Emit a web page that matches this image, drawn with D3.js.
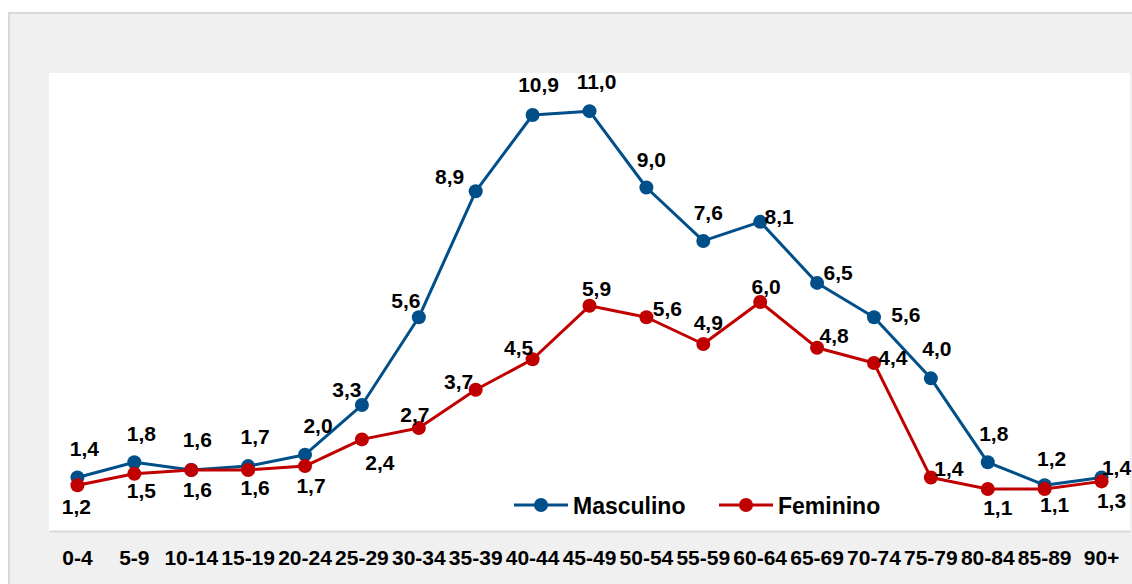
<!DOCTYPE html>
<html>
<head>
<meta charset="utf-8">
<script src="https://cdn.jsdelivr.net/npm/d3@7"></script>
<style>
  html, body { margin: 0; padding: 0; background: #ffffff; }
  svg { display: block; }
  text { font-family: "Liberation Sans", Arial, sans-serif; font-weight: bold; fill: #000; }
</style>
</head>
<body>
<svg id="chart" width="1132" height="584"></svg>
<script>
// ---- data ----
const categories = ["0-4","5-9","10-14","15-19","20-24","25-29","30-34","35-39","40-44","45-49","50-54","55-59","60-64","65-69","70-74","75-79","80-84","85-89","90+"];
const masculino = [1.4,1.8,1.6,1.7,2.0,3.3,5.6,8.9,10.9,11.0,9.0,7.6,8.1,6.5,5.6,4.0,1.8,1.2,1.4];
const feminino  = [1.2,1.5,1.6,1.6,1.7,2.4,2.7,3.7,4.5,5.9,5.6,4.9,6.0,4.8,4.4,1.4,1.1,1.1,1.3];
const seriesNames = ["Masculino","Feminino"];

// ---- label placement (dx, dy relative to point) ----
const mascLabelOffsets = [[7,-29],[7,-29],[6,-30],[7,-30],[13,-29],[-15,-16],[-13,-17],[-26,-15],[6,-30],[7,-30],[5,-28],[5,-28],[19,-5],[21,-10],[32,-3],[6,-30],[6,-29],[7,-27],[15,-10]];
const femLabelOffsets  = [[-1,21],[7,17],[6,20],[7,18],[6,19],[18,23],[-4,-13],[-17,-8],[-14,-12],[7,-17],[21,-9],[5,-21],[6,-16],[17,-12],[19,-6],[18,-9],[10,18],[10,15],[10,19]];

const colors = { Masculino: "#004f88", Feminino: "#c00000" };

const svg = d3.select("#chart");
const W = 1132, H = 584;

// outer panel
svg.append("rect").attr("x", 9).attr("y", 13).attr("width", W - 9 + 2).attr("height", H - 13 + 2)
  .attr("fill", "#f0f0f0").attr("stroke", "#d9d9d9").attr("stroke-width", 2);

const plot = { left: 49, right: 1130, top: 73, bottom: 531 };
svg.append("rect").attr("x", plot.left).attr("y", plot.top)
  .attr("width", plot.right - plot.left).attr("height", plot.bottom - plot.top).attr("fill", "#ffffff");

const x = d3.scaleBand().domain(categories).range([plot.left, plot.right]);
const y = d3.scaleLinear().domain([0, 12]).range([plot.bottom, plot.top]);

// bottom axis
const xAxis = d3.axisBottom(x).tickSize(0).tickPadding(0);
const gx = svg.append("g").attr("transform", `translate(0,${plot.bottom})`).call(xAxis);
gx.select(".domain").attr("stroke", "#d9d9d9").attr("stroke-width", 2);
gx.selectAll("text").attr("font-size", 21).attr("font-family", "Liberation Sans, Arial, sans-serif")
  .attr("font-weight", "bold").attr("fill", "#000").attr("dy", null).attr("y", 26).attr("dominant-baseline", "central");

const cx = d => x(d) + x.bandwidth() / 2;

function drawSeries(values, color, offsets) {
  const pts = categories.map((c, i) => ({ c, v: values[i], o: offsets[i] }));
  const line = d3.line().x(d => cx(d.c)).y(d => y(d.v));
  const g = svg.append("g");
  g.append("path").datum(pts).attr("d", line).attr("fill", "none")
    .attr("stroke", color).attr("stroke-width", 3).attr("stroke-linejoin", "round");
  g.selectAll("circle").data(pts).join("circle")
    .attr("cx", d => cx(d.c)).attr("cy", d => y(d.v)).attr("r", 7).attr("fill", color);
  return pts;
}

const mPts = drawSeries(masculino, colors.Masculino, mascLabelOffsets);
const fPts = drawSeries(feminino, colors.Feminino, femLabelOffsets);

const fmt = v => v.toFixed(1).replace(".", ",");
function drawLabels(pts) {
  svg.append("g").selectAll("text").data(pts).join("text")
    .attr("x", d => cx(d.c) + d.o[0]).attr("y", d => y(d.v) + d.o[1])
    .attr("text-anchor", "middle").attr("dominant-baseline", "central")
    .attr("font-size", 21).text(d => fmt(d.v));
}
drawLabels(mPts);
drawLabels(fPts);

// legend
const legendItems = [
  { name: seriesNames[0], x0: 514 },
  { name: seriesNames[1], x0: 719 }
];
const ly = 505;
const lg = svg.append("g");
legendItems.forEach(it => {
  const col = colors[it.name];
  lg.append("line").attr("x1", it.x0).attr("x2", it.x0 + 54).attr("y1", ly).attr("y2", ly)
    .attr("stroke", col).attr("stroke-width", 3);
  lg.append("circle").attr("cx", it.x0 + 27).attr("cy", ly).attr("r", 7).attr("fill", col);
  lg.append("text").attr("x", it.x0 + 59).attr("y", ly + 1).attr("dominant-baseline", "central")
    .attr("font-size", 23).text(it.name);
});
</script>
</body>
</html>
